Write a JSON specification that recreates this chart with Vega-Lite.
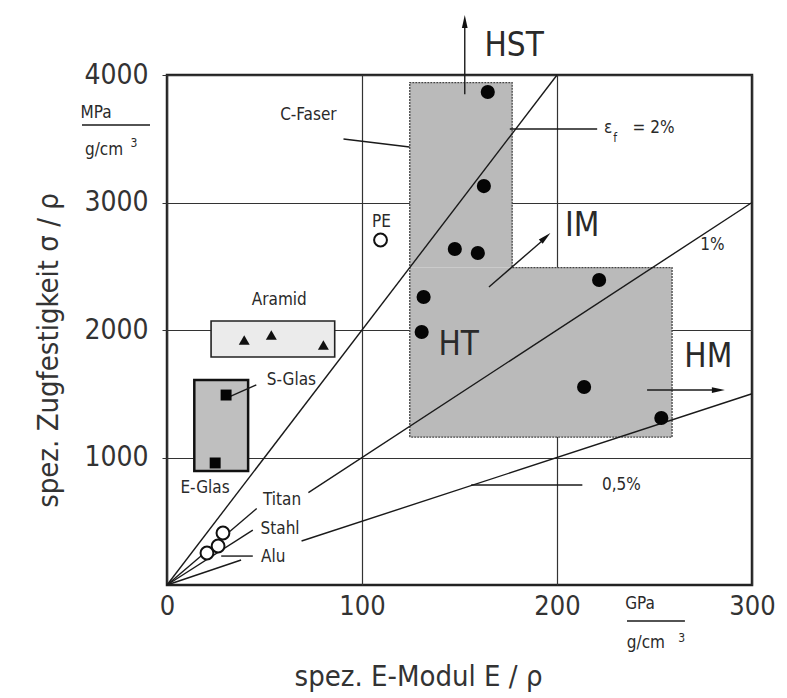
{
  "$schema": "https://vega.github.io/schema/vega-lite/v6.json",
  "width": 585,
  "height": 510,
  "autosize": {"type": "none"},
  "padding": {"left": 167, "top": 75, "right": 35, "bottom": 113},
  "background": "white",
  "config": {
    "view": {"stroke": "#222", "strokeWidth": 2.5},
    "font": "Liberation Sans Narrow, DejaVu Sans Condensed, sans-serif",
    "text": {"font": "Liberation Sans Narrow, DejaVu Sans Condensed, sans-serif", "color": "#2a2a2a"},
    "axis": {"labelFont": "Liberation Sans Narrow, DejaVu Sans Condensed, sans-serif", "titleFont": "Liberation Sans Narrow, DejaVu Sans Condensed, sans-serif", "labelColor": "#333", "titleColor": "#333", "titleFontWeight": "normal", "gridColor": "#333", "gridWidth": 1.2, "gridOpacity": 1, "domain": false, "zindex": 1}
  },
  "datasets": {
    "regions": [
      {"part": "cf_top", "kind": "C", "x1": 124.5, "x2": 177, "y1": 2490, "y2": 3940},
      {"part": "cf_bottom", "kind": "C", "x1": 124.5, "x2": 259, "y1": 1160, "y2": 2490},
      {"part": "glas", "kind": "Glas", "x1": 14, "x2": 41.6, "y1": 894, "y2": 1608},
      {"part": "aramid", "kind": "Aramid", "x1": 22.6, "x2": 86, "y1": 1788, "y2": 2071}
    ],
    "outline": [
      {"o": 0, "E": 124.5, "s": 1160},
      {"o": 1, "E": 124.5, "s": 3940},
      {"o": 2, "E": 177, "s": 3940},
      {"o": 3, "E": 177, "s": 2490},
      {"o": 4, "E": 259, "s": 2490},
      {"o": 5, "E": 259, "s": 1160},
      {"o": 6, "E": 124.5, "s": 1160}
    ],
    "lines": [
      {"seg": "p2", "o": 0, "E": 0, "s": 0}, {"seg": "p2", "o": 1, "E": 200, "s": 4000},
      {"seg": "p1", "o": 0, "E": 72.5, "s": 725}, {"seg": "p1", "o": 1, "E": 300, "s": 3000},
      {"seg": "p05", "o": 0, "E": 69, "s": 345}, {"seg": "p05", "o": 1, "E": 300, "s": 1500},
      {"seg": "titan", "o": 0, "E": 0, "s": 0}, {"seg": "titan", "o": 1, "E": 46, "s": 600},
      {"seg": "stahl", "o": 0, "E": 0, "s": 0}, {"seg": "stahl", "o": 1, "E": 44, "s": 430},
      {"seg": "alu", "o": 0, "E": 0, "s": 0}, {"seg": "alu", "o": 1, "E": 38, "s": 196},
      {"seg": "alu_h", "o": 0, "E": 27.8, "s": 227}, {"seg": "alu_h", "o": 1, "E": 44, "s": 227},
      {"seg": "cfaser", "o": 0, "E": 90.5, "s": 3498}, {"seg": "cfaser", "o": 1, "E": 124.4, "s": 3435},
      {"seg": "eps", "o": 0, "E": 175.8, "s": 3576}, {"seg": "eps", "o": 1, "E": 220.6, "s": 3576},
      {"seg": "half", "o": 0, "E": 156, "s": 784}, {"seg": "half", "o": 1, "E": 213, "s": 784},
      {"seg": "sglas", "o": 0, "E": 31.9, "s": 1475}, {"seg": "sglas", "o": 1, "E": 45.8, "s": 1569},
      {"seg": "arrow_hst", "o": 0, "E": 152.7, "s": 3850}, {"seg": "arrow_hst", "o": 1, "E": 152.7, "s": 4420},
      {"seg": "arrow_im", "o": 0, "E": 165.1, "s": 2337}, {"seg": "arrow_im", "o": 1, "E": 193.5, "s": 2714},
      {"seg": "arrow_hm", "o": 0, "E": 246.2, "s": 1529}, {"seg": "arrow_hm", "o": 1, "E": 282, "s": 1529},
      {"seg": "unit_y", "o": 0, "E": -43.6, "s": 3608}, {"seg": "unit_y", "o": 1, "E": -8.7, "s": 3608},
      {"seg": "unit_x", "o": 0, "E": 235.9, "s": -282}, {"seg": "unit_x", "o": 1, "E": 265.6, "s": -282}
    ],
    "heads": [
      {"name": "HST", "E": 152.7, "s": 4400, "angle": 0},
      {"name": "IM", "E": 193.2, "s": 2714, "angle": 48},
      {"name": "HM", "E": 281.5, "s": 1529, "angle": 90}
    ],
    "cfibers": [
      {"E": 164.5, "s": 3867}, {"E": 162.5, "s": 3129}, {"E": 147.6, "s": 2635},
      {"E": 159.4, "s": 2604}, {"E": 131.6, "s": 2259}, {"E": 221.6, "s": 2392},
      {"E": 130.6, "s": 1984}, {"E": 213.9, "s": 1553}, {"E": 253.5, "s": 1310}
    ],
    "open": [
      {"name": "PE", "E": 109.5, "s": 2706},
      {"name": "Alu", "E": 20.5, "s": 251},
      {"name": "Stahl", "E": 26.2, "s": 306},
      {"name": "Titan", "E": 28.7, "s": 408}
    ],
    "aramid": [{"E": 39.6, "s": 1922}, {"E": 53.5, "s": 1961}, {"E": 80.2, "s": 1882}],
    "glas": [{"name": "S-Glas", "E": 30.3, "s": 1490}, {"name": "E-Glas", "E": 24.7, "s": 957}],
    "labels": [
      {"t": "C-Faser", "E": 72.5, "s": 3686},
      {"t": "PE", "E": 110, "s": 2847},
      {"t": "Aramid", "E": 57.6, "s": 2235},
      {"t": "S-Glas", "E": 63.8, "s": 1608},
      {"t": "E-Glas", "E": 19.5, "s": 761},
      {"t": "Titan", "E": 59, "s": 667},
      {"t": "Stahl", "E": 58, "s": 439},
      {"t": "Alu", "E": 54.5, "s": 220},
      {"t": "1%", "E": 279.7, "s": 2667},
      {"t": "0,5%", "E": 233, "s": 784},
      {"t": "ε", "E": 226.2, "s": 3584},
      {"t": "= 2%", "E": 249.5, "s": 3584},
      {"t": "MPa", "E": -36.4, "s": 3702},
      {"t": "g/cm", "E": -32.3, "s": 3412},
      {"t": "GPa", "E": 242.6, "s": -149},
      {"t": "g/cm", "E": 245.6, "s": -455}
    ],
    "tiny": [
      {"t": "f", "E": 229.8, "s": 3506},
      {"t": "3", "E": -17, "s": 3467},
      {"t": "3", "E": 264, "s": -416}
    ],
    "big": [
      {"t": "HST", "E": 178, "s": 4227},
      {"t": "IM", "E": 212.9, "s": 2816},
      {"t": "HT", "E": 149.6, "s": 1882},
      {"t": "HM", "E": 277.6, "s": 1788}
    ]
  },
  "encoding": {
    "x": {"type": "quantitative", "scale": {"domain": [0, 300], "nice": false, "zero": false}},
    "y": {"type": "quantitative", "scale": {"domain": [0, 4000], "nice": false, "zero": false}}
  },
  "layer": [
    {
      "data": {"name": "regions"},
      "transform": [{"filter": "datum.kind === 'C'"}],
      "mark": {"type": "rect", "color": "#bababa", "strokeWidth": 0},
      "encoding": {
        "x": {"field": "x1", "type": "quantitative", "title": "spez. E-Modul E / ρ", "axis": {"values": [0, 100, 200, 300], "format": "d", "ticks": false, "labelFlush": false, "labelFontSize": 27, "labelPadding": 8, "titleFontSize": 29, "titleX": 251, "titleY": 91, "titleBaseline": "middle", "titleAnchor": "middle", "titleAlign": "center"}},
        "x2": {"field": "x2"},
        "y": {"field": "y1", "type": "quantitative", "title": "spez. Zugfestigkeit σ / ρ", "axis": {"values": [1000, 2000, 3000, 4000], "format": "d", "ticks": true, "tickSize": 5, "tickColor": "#333", "labelFlush": false, "labelFontSize": 28, "labelPadding": 14, "titleFontSize": 29, "titleX": -119, "titleY": 275, "titleAngle": -90, "titleBaseline": "middle", "titleAlign": "center"}},
        "y2": {"field": "y2"}
      }
    },
    {
      "data": {"name": "regions"},
      "transform": [{"filter": "datum.kind === 'Glas'"}],
      "mark": {"type": "rect", "color": "#bfbfbf", "stroke": "#111", "strokeWidth": 2.5},
      "encoding": {"x": {"field": "x1", "type": "quantitative"}, "x2": {"field": "x2"}, "y": {"field": "y1", "type": "quantitative"}, "y2": {"field": "y2"}}
    },
    {
      "data": {"name": "regions"},
      "transform": [{"filter": "datum.kind === 'Aramid'"}],
      "mark": {"type": "rect", "color": "#ebebeb", "stroke": "#222", "strokeWidth": 1.6},
      "encoding": {"x": {"field": "x1", "type": "quantitative"}, "x2": {"field": "x2"}, "y": {"field": "y1", "type": "quantitative"}, "y2": {"field": "y2"}}
    },
    {
      "data": {"name": "outline"},
      "mark": {"type": "line", "color": "#444", "strokeWidth": 1.3, "strokeDash": [2, 1]},
      "encoding": {"x": {"field": "E", "type": "quantitative"}, "y": {"field": "s", "type": "quantitative"}, "order": {"field": "o"}}
    },
    {
      "data": {"name": "lines"},
      "mark": {"type": "line", "color": "#1a1a1a", "strokeWidth": 1.4},
      "encoding": {"x": {"field": "E", "type": "quantitative"}, "y": {"field": "s", "type": "quantitative"}, "detail": {"field": "seg"}, "order": {"field": "o"}}
    },
    {
      "data": {"name": "heads"},
      "mark": {"type": "point", "shape": "M0,-1L0.32,0.45L-0.32,0.45Z", "filled": true, "color": "#111", "size": 320, "opacity": 1},
      "encoding": {"x": {"field": "E", "type": "quantitative"}, "y": {"field": "s", "type": "quantitative"}, "angle": {"field": "angle", "type": "quantitative", "scale": null}}
    },
    {
      "data": {"name": "cfibers"},
      "mark": {"type": "circle", "color": "#050505", "size": 200, "opacity": 1},
      "encoding": {"x": {"field": "E", "type": "quantitative"}, "y": {"field": "s", "type": "quantitative"}}
    },
    {
      "data": {"name": "open"},
      "mark": {"type": "point", "shape": "circle", "filled": true, "fill": "white", "stroke": "#111", "strokeWidth": 2, "size": 165, "opacity": 1},
      "encoding": {"x": {"field": "E", "type": "quantitative"}, "y": {"field": "s", "type": "quantitative"}}
    },
    {
      "data": {"name": "aramid"},
      "mark": {"type": "point", "shape": "triangle-up", "filled": true, "color": "#111", "size": 120, "opacity": 1},
      "encoding": {"x": {"field": "E", "type": "quantitative"}, "y": {"field": "s", "type": "quantitative"}}
    },
    {
      "data": {"name": "glas"},
      "mark": {"type": "square", "color": "#050505", "size": 120, "opacity": 1},
      "encoding": {"x": {"field": "E", "type": "quantitative"}, "y": {"field": "s", "type": "quantitative"}}
    },
    {
      "data": {"name": "labels"},
      "mark": {"type": "text", "fontSize": 17, "align": "center", "baseline": "middle"},
      "encoding": {"x": {"field": "E", "type": "quantitative"}, "y": {"field": "s", "type": "quantitative"}, "text": {"field": "t"}}
    },
    {
      "data": {"name": "tiny"},
      "mark": {"type": "text", "fontSize": 12, "align": "center", "baseline": "middle"},
      "encoding": {"x": {"field": "E", "type": "quantitative"}, "y": {"field": "s", "type": "quantitative"}, "text": {"field": "t"}}
    },
    {
      "data": {"name": "big"},
      "mark": {"type": "text", "fontSize": 33, "align": "center", "baseline": "middle"},
      "encoding": {"x": {"field": "E", "type": "quantitative"}, "y": {"field": "s", "type": "quantitative"}, "text": {"field": "t"}}
    }
  ]
}
